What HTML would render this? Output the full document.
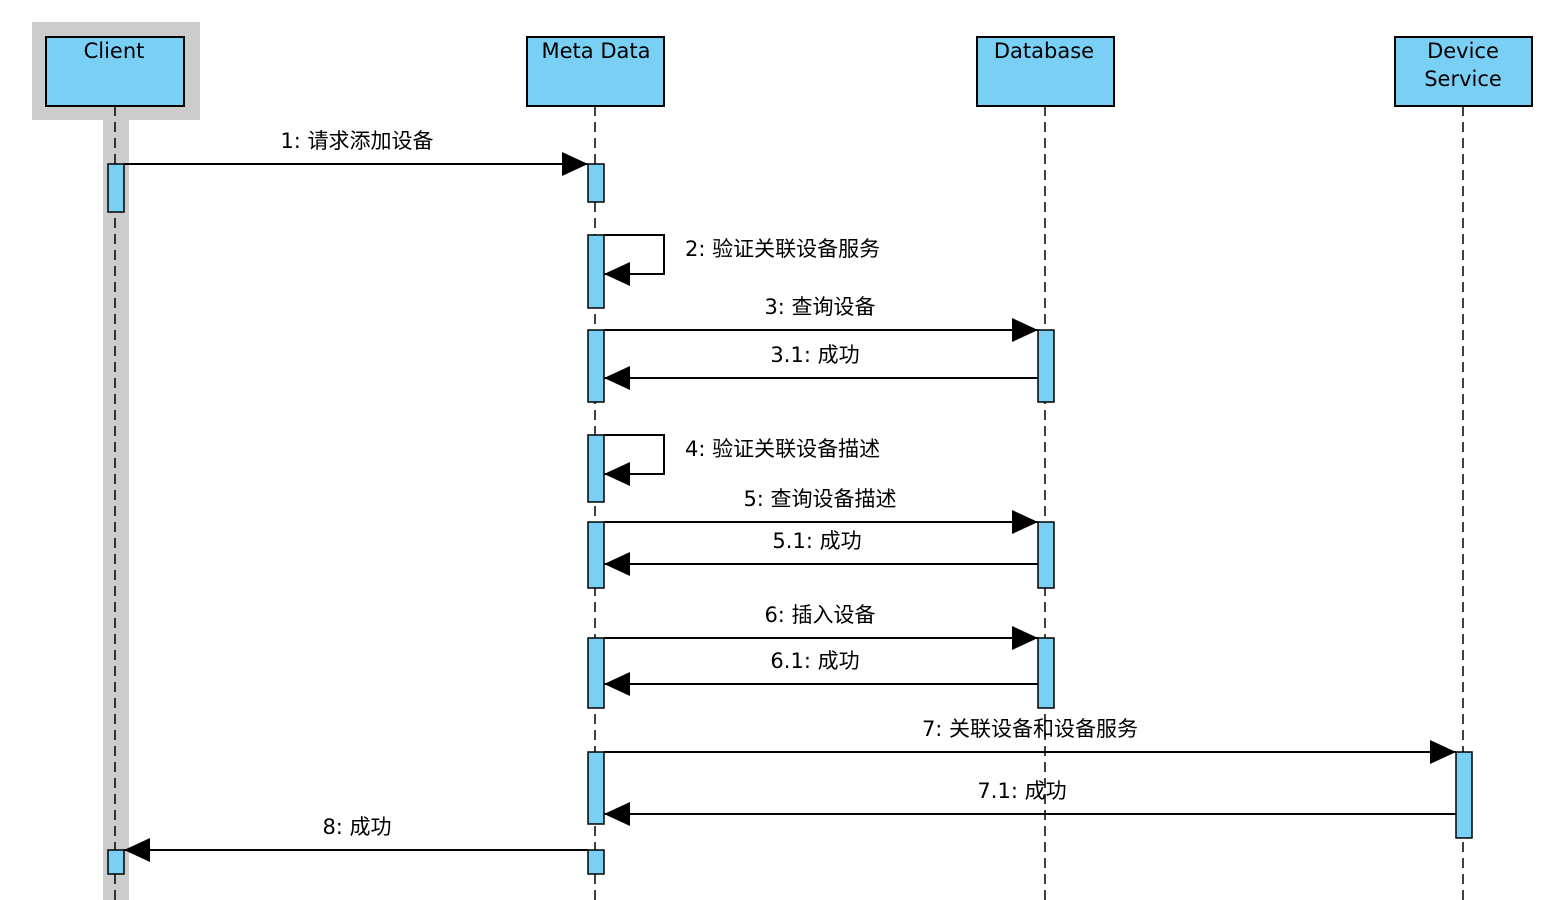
<!DOCTYPE html>
<html><head><meta charset="utf-8"><style>
html,body{margin:0;padding:0;background:#fff;}
svg{display:block;}
text{font-family:"DejaVu Sans","Noto Sans CJK SC",sans-serif;font-size:21px;fill:#000;}
</style></head><body>
<svg width="1550" height="900" viewBox="0 0 1550 900" xmlns="http://www.w3.org/2000/svg">
<defs>
<marker id="a" markerWidth="26" markerHeight="24" refX="26" refY="12" orient="auto" markerUnits="userSpaceOnUse">
<path d="M0,0 L26,12 L0,24 Z" fill="#000"/></marker>
</defs>
<rect x="32" y="22" width="168" height="98" fill="#cccccc"/>
<rect x="103" y="118" width="26" height="782" fill="#cccccc"/>
<g stroke="#000" stroke-width="1.5" stroke-dasharray="10,6" fill="none">
<line x1="115" y1="106" x2="115" y2="900"/>
<line x1="595" y1="106" x2="595" y2="900"/>
<line x1="1045" y1="106" x2="1045" y2="900"/>
<line x1="1463" y1="106" x2="1463" y2="900"/>
</g>
<g fill="#7acff4" stroke="#000" stroke-width="2">
<rect x="46" y="37" width="138" height="69"/>
<rect x="527" y="37" width="137" height="69"/>
<rect x="977" y="37" width="137" height="69"/>
<rect x="1395" y="37" width="137" height="69"/>
</g>
<g text-anchor="middle">
<text x="114" y="58">Client</text>
<text x="596" y="58">Meta Data</text>
<text x="1044" y="58">Database</text>
<text x="1463" y="58">Device</text>
<text x="1463" y="86">Service</text>
</g>
<g stroke="#000" stroke-width="2" fill="none" marker-end="url(#a)">
<line x1="124" y1="164" x2="588" y2="164"/>
<polyline points="604,235 664,235 664,274 604,274"/>
<line x1="604" y1="330" x2="1038" y2="330"/>
<line x1="1038" y1="378" x2="604" y2="378"/>
<polyline points="604,435 664,435 664,474 604,474"/>
<line x1="604" y1="522" x2="1038" y2="522"/>
<line x1="1038" y1="564" x2="604" y2="564"/>
<line x1="604" y1="638" x2="1038" y2="638"/>
<line x1="1038" y1="684" x2="604" y2="684"/>
<line x1="604" y1="752" x2="1456" y2="752"/>
<line x1="1456" y1="814" x2="604" y2="814"/>
<line x1="588" y1="850" x2="124" y2="850"/>
</g>
<g fill="#7acff4" stroke="#000" stroke-width="1.5">
<rect x="108" y="164" width="16" height="48"/>
<rect x="108" y="850" width="16" height="24"/>
<rect x="588" y="164" width="16" height="38"/>
<rect x="588" y="235" width="16" height="73"/>
<rect x="588" y="330" width="16" height="72"/>
<rect x="588" y="435" width="16" height="67"/>
<rect x="588" y="522" width="16" height="66"/>
<rect x="588" y="638" width="16" height="70"/>
<rect x="588" y="752" width="16" height="72"/>
<rect x="588" y="850" width="16" height="24"/>
<rect x="1038" y="330" width="16" height="72"/>
<rect x="1038" y="522" width="16" height="66"/>
<rect x="1038" y="638" width="16" height="70"/>
<rect x="1456" y="752" width="16" height="86"/>
</g>
<g text-anchor="middle">
<text x="357" y="148">1: 请求添加设备</text>
<text x="820" y="314">3: 查询设备</text>
<text x="815" y="362">3.1: 成功</text>
<text x="820" y="506">5: 查询设备描述</text>
<text x="817" y="548">5.1: 成功</text>
<text x="820" y="622">6: 插入设备</text>
<text x="815" y="668">6.1: 成功</text>
<text x="1030" y="736">7: 关联设备和设备服务</text>
<text x="1022" y="798">7.1: 成功</text>
<text x="357" y="834">8: 成功</text>
</g>
<text x="685" y="256">2: 验证关联设备服务</text>
<text x="685" y="456">4: 验证关联设备描述</text>
</svg>
</body></html>
